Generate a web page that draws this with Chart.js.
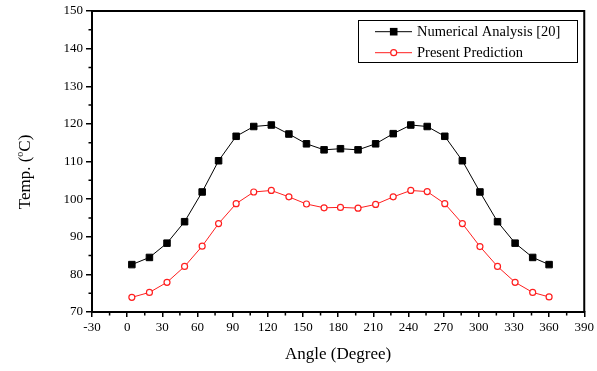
<!DOCTYPE html>
<html>
<head>
<meta charset="utf-8">
<script src="https://cdn.jsdelivr.net/npm/chart.js@4"></script>
<style>
  body { margin: 0; background: #fff; }
  #wrap { width: 597px; height: 371px; }
</style>
</head>
<body>
<div id="wrap"><canvas id="myChart"></canvas></div>
<script>
// values
const angles = [4, 19, 34, 49, 64, 78, 93, 108, 123, 138, 153, 168, 182,
  197, 212, 227, 242, 256, 271, 286, 301, 316, 331, 346, 360];
const numerical = [82.6, 84.5, 88.3, 94.0, 101.9, 110.2, 116.7, 119.3, 119.7, 117.3, 114.7, 113.1, 113.4,
  113.1, 114.7, 117.4, 119.7, 119.3, 116.7, 110.2, 101.9, 94.0, 88.3, 84.5, 82.6];
const present = [73.9, 75.2, 77.9, 82.1, 87.5, 93.5, 98.8, 101.9, 102.3, 100.6, 98.7, 97.7, 97.8,
  97.6, 98.6, 100.6, 102.3, 102.0, 98.8, 93.5, 87.4, 82.1, 77.9, 75.2, 74.0];
const seriesNames = ['Numerical Analysis [20]', 'Present Prediction'];
const xTitle = 'Angle (Degree)';
const yTitle = ['Temp. (', 'o', 'C)'];

const serif = "'Liberation Serif', 'Times New Roman', serif";
const red = '#ff1f1f';

function toPoints(xs, ys) {
  return xs.map((x, i) => ({ x: x, y: ys[i] }));
}

// frame, minor ticks, legend and y title
const extras = {
  id: 'extras',
  afterDraw(chart) {
    const ctx = chart.ctx;
    const area = chart.chartArea;
    const xs = chart.scales.x;
    const ys = chart.scales.y;
    ctx.save();
    ctx.strokeStyle = '#000';
    ctx.lineWidth = 2;
    ctx.beginPath();
    ctx.moveTo(area.left, area.top);
    ctx.lineTo(area.right, area.top);
    ctx.lineTo(area.right, area.bottom);
    ctx.stroke();

    // minor ticks
    ctx.lineWidth = 1.5;
    ctx.beginPath();
    for (let v = -15; v < 390; v += 30) {
      const px = xs.getPixelForValue(v);
      ctx.moveTo(px, area.bottom);
      ctx.lineTo(px, area.bottom + 3.5);
    }
    for (let v = 75; v < 150; v += 10) {
      const py = ys.getPixelForValue(v);
      ctx.moveTo(area.left, py);
      ctx.lineTo(area.left - 3.5, py);
    }
    ctx.stroke();

    // legend
    ctx.lineWidth = 1;
    ctx.strokeRect(358.5, 20.5, 219, 42);
    ctx.font = '14.5px ' + serif;
    ctx.textBaseline = 'middle';
    ctx.fillStyle = '#000';
    const rows = [31.7, 52.7];
    // black row
    ctx.strokeStyle = '#000';
    ctx.beginPath();
    ctx.moveTo(375, rows[0]); ctx.lineTo(412, rows[0]);
    ctx.stroke();
    ctx.fillRect(393.7 - 3.8, rows[0] - 3.8, 7.6, 7.6);
    ctx.fillText(seriesNames[0], 417, rows[0] + 0.5);
    // red row
    ctx.strokeStyle = red;
    ctx.beginPath();
    ctx.moveTo(375, rows[1]); ctx.lineTo(412, rows[1]);
    ctx.stroke();
    ctx.beginPath();
    ctx.arc(393.7, rows[1], 3, 0, Math.PI * 2);
    ctx.fillStyle = '#fff';
    ctx.fill();
    ctx.lineWidth = 1.2;
    ctx.stroke();
    ctx.fillStyle = '#000';
    ctx.fillText(seriesNames[1], 417, rows[1] + 0.5);

    // y title with superscript
    ctx.translate(24, 172);
    ctx.rotate(-Math.PI / 2);
    const big = '17px ' + serif;
    const small = '10px ' + serif;
    ctx.font = big;
    const w1 = ctx.measureText(yTitle[0]).width;
    const w3 = ctx.measureText(yTitle[2]).width;
    ctx.font = small;
    const w2 = ctx.measureText(yTitle[1]).width;
    let x0 = -(w1 + w2 + w3) / 2;
    ctx.textAlign = 'left';
    ctx.textBaseline = 'alphabetic';
    ctx.font = big;
    ctx.fillText(yTitle[0], x0, 6);
    ctx.font = small;
    ctx.fillText(yTitle[1], x0 + w1, -1);
    ctx.font = big;
    ctx.fillText(yTitle[2], x0 + w1 + w2, 6);
    ctx.restore();
  }
};

const ctx = document.getElementById('myChart').getContext('2d');
const myChart = new Chart(ctx, {
  type: 'line',
  data: {
    datasets: [{
      label: seriesNames[0],
      data: toPoints(angles, numerical),
      borderColor: '#000',
      backgroundColor: '#000',
      borderWidth: 1,
      pointStyle: 'rect',
      pointRadius: 4.6,
      pointBorderWidth: 1,
      pointBackgroundColor: '#000',
      pointBorderColor: '#000'
    }, {
      label: seriesNames[1],
      data: toPoints(angles, present),
      borderColor: red,
      backgroundColor: '#fff',
      borderWidth: 1,
      pointStyle: 'circle',
      pointRadius: 3,
      pointBorderWidth: 1.2,
      pointBackgroundColor: '#fff',
      pointBorderColor: red
    }]
  },
  options: {
    responsive: true,
    maintainAspectRatio: false,
    animation: false,
    layout: { padding: { top: 11, right: 11, left: 0, bottom: 0 } },
    plugins: {
      legend: { display: false },
      tooltip: { enabled: false }
    },
    scales: {
      x: {
        type: 'linear',
        min: -30,
        max: 390,
        ticks: { stepSize: 30, color: '#000', padding: 3, maxRotation: 0, font: { family: serif, size: 13 } },
        grid: { drawOnChartArea: false, drawTicks: true, tickLength: 5, color: '#000', lineWidth: 1.5 },
        border: { display: true, color: '#000', width: 2 },
        title: { display: true, text: xTitle, color: '#000', font: { family: serif, size: 17 }, padding: { top: 0, bottom: 6 } },
        afterFit: (scale) => { scale.height = 59; }
      },
      y: {
        min: 70,
        max: 150,
        ticks: { stepSize: 10, color: '#000', padding: 3, font: { family: serif, size: 13 } },
        grid: { drawOnChartArea: false, drawTicks: true, tickLength: 6, color: '#000', lineWidth: 1.5 },
        border: { display: true, color: '#000', width: 2 },
        afterFit: (scale) => { scale.width = 92; }
      }
    }
  },
  plugins: [extras]
});
</script>
</body>
</html>
